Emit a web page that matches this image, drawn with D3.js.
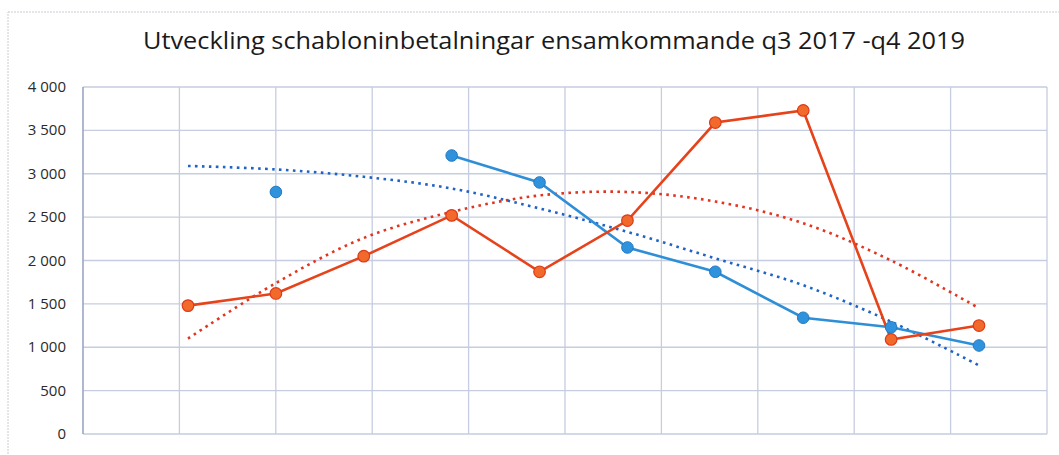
<!DOCTYPE html>
<html>
<head>
  <meta charset="utf-8">
  <title>Utveckling schabloninbetalningar</title>
  <script src="https://d3js.org/d3.v7.min.js"></script>
  <style>
    body { margin: 0; background: #fff; }
    .tick-label { font-family: "Open Sans", "Liberation Sans", sans-serif; font-size: 15px; fill: #2a2a2a; }
    .title { font-family: "Open Sans", "Liberation Sans", sans-serif; font-size: 23px; fill: #1a1a1a; }
  </style>
</head>
<body>
  <svg id="chart" width="1059" height="455"></svg>

  <script>
    // quarters q3 2017 .. q4 2019
    const quarters = ["q3 2017", "q4 2017", "q1 2018", "q2 2018", "q3 2018",
                      "q4 2018", "q1 2019", "q2 2019", "q3 2019", "q4 2019"];

    // values
    const orangeValues = [1480, 1620, 2050, 2520, 1870, 2460, 3590, 3730, 1090, 1250];
    const blueValues   = [null, 2790, null, 3210, 2900, 2150, 1870, 1340, 1230, 1020];

    // dotted trend lines (as drawn in the picture)
    const orangeTrend = [1100, 1740, 2260, 2560, 2750, 2790, 2680, 2430, 2000, 1450];
    const blueTrend   = [3090, 3050, 2965, 2830, 2600, 2330, 2025, 1715, 1295, 790];

    const yTicks = [0, 500, 1000, 1500, 2000, 2500, 3000, 3500, 4000];

    const svg = d3.select("#chart");

    const plotLeft = 83, plotRight = 1047, plotTop = 87, plotBottom = 434;

    // grid uses the band layout, the series sit on their own point layout
    const xBand = d3.scaleBand().domain(quarters).range([plotLeft, plotRight]);
    const x = d3.scalePoint().domain(quarters).range([188, 979]);
    const y = d3.scaleLinear().domain([0, 4000]).range([plotBottom, plotTop]);

    const fmt = d => d3.format(",")(d).replace(",", " ");

    // outer chart frame (scanned, faint)
    svg.append("rect")
      .attr("x", 8).attr("y", 12)
      .attr("width", 1070).attr("height", 480)
      .attr("fill", "none")
      .attr("stroke", "#c9ccd4")
      .attr("stroke-dasharray", "2,1");

    // title
    svg.append("text")
      .attr("class", "title")
      .attr("x", 554).attr("y", 49)
      .attr("text-anchor", "middle")
      .attr("textLength", 822)
      .attr("lengthAdjust", "spacingAndGlyphs")
      .text("Utveckling schabloninbetalningar ensamkommande q3 2017 -q4 2019");

    // horizontal gridlines
    svg.append("g")
      .selectAll("line")
      .data(yTicks)
      .join("line")
      .attr("x1", plotLeft).attr("x2", plotRight)
      .attr("y1", d => y(d)).attr("y2", d => y(d))
      .attr("stroke", "#c6cde0")
      .attr("stroke-width", 1.3);

    // vertical gridlines
    const vLines = quarters.map(q => xBand(q) + xBand.bandwidth()).concat([plotLeft]);
    svg.append("g")
      .selectAll("line")
      .data(vLines)
      .join("line")
      .attr("x1", d => d).attr("x2", d => d)
      .attr("y1", plotTop).attr("y2", plotBottom)
      .attr("stroke", (d, i) => i === vLines.length - 1 ? "#9aa6c4" : "#c6cde0")
      .attr("stroke-width", (d, i) => i === vLines.length - 1 ? 1.6 : 1.3);

    // y tick labels
    svg.append("g")
      .selectAll("text")
      .data(yTicks)
      .join("text")
      .attr("class", "tick-label")
      .attr("x", 66)
      .attr("y", d => y(d) + 5)
      .attr("text-anchor", "end")
      .text(fmt);

    // trend lines
    const trendLine = d3.line()
      .x((d, i) => x(quarters[i]))
      .y(d => y(d))
      .curve(d3.curveCatmullRom);

    svg.append("path")
      .datum(orangeTrend)
      .attr("d", trendLine)
      .attr("fill", "none")
      .attr("stroke", "#e2351f")
      .attr("stroke-width", 2.6)
      .attr("stroke-dasharray", "2.6,4.4");

    svg.append("path")
      .datum(blueTrend)
      .attr("d", trendLine)
      .attr("fill", "none")
      .attr("stroke", "#1f63c4")
      .attr("stroke-width", 2.6)
      .attr("stroke-dasharray", "2.6,4.4");

    // series lines
    const seriesLine = d3.line()
      .defined(d => d != null)
      .x((d, i) => x(quarters[i]))
      .y(d => y(d));

    svg.append("path")
      .datum(blueValues)
      .attr("d", seriesLine)
      .attr("fill", "none")
      .attr("stroke", "#2f8fd6")
      .attr("stroke-width", 2.6);

    svg.append("path")
      .datum(orangeValues)
      .attr("d", seriesLine)
      .attr("fill", "none")
      .attr("stroke", "#e6431b")
      .attr("stroke-width", 2.6);

    // markers
    svg.append("g")
      .selectAll("circle")
      .data(blueValues.map((v, i) => ({ q: quarters[i], v })).filter(d => d.v != null))
      .join("circle")
      .attr("cx", d => x(d.q))
      .attr("cy", d => y(d.v))
      .attr("r", 5.8)
      .attr("fill", "#2e93dc")
      .attr("stroke", "#2478c0")
      .attr("stroke-width", 1);

    svg.append("g")
      .selectAll("circle")
      .data(orangeValues.map((v, i) => ({ q: quarters[i], v })))
      .join("circle")
      .attr("cx", d => x(d.q))
      .attr("cy", d => y(d.v))
      .attr("r", 5.8)
      .attr("fill", "#f26a2b")
      .attr("stroke", "#de3a18")
      .attr("stroke-width", 1.2);
  </script>
</body>
</html>
